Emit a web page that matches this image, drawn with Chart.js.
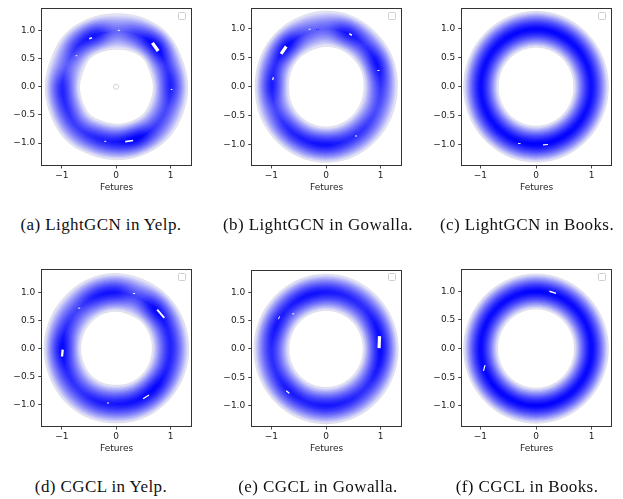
<!DOCTYPE html>
<html><head><meta charset="utf-8">
<script src="https://cdn.jsdelivr.net/npm/chart.js@4.4.1/dist/chart.umd.min.js"></script>
<style>
html,body{margin:0;padding:0;background:#fff;}
body{width:623px;height:499px;position:relative;overflow:hidden;}
canvas{position:absolute;}
.cap{position:absolute;font-family:"Liberation Serif","DejaVu Serif",serif;font-size:17px;letter-spacing:0.4px;color:#111;white-space:nowrap;transform:translate(-50%,-50%);}
.leg{position:absolute;width:6px;height:6px;border:1px solid #cfcfcf;border-radius:1.5px;background:#fff;}
</style></head><body>
<script>
// ---------------- data ----------------
const angles = [0, 22.5, 45, 67.5, 90, 112.5, 135, 157.5, 180, 202.5, 225, 247.5, 270, 292.5, 315, 337.5];
const xTicks = [-1, 0, 1];
const xTickLabels = ['\u22121', '0', '1'];
const yTicks = [-1, -0.5, 0, 0.5, 1];
const yTickLabels = ['\u22121.0', '\u22120.5', '0.0', '0.5', '1.0'];
const captionTags = ['(a)', '(b)', '(c)', '(d)', '(e)', '(f)'];
const captionTexts = ['LightGCN in Yelp.', 'LightGCN in Gowalla.', 'LightGCN in Books.', 'CGCL in Yelp.', 'CGCL in Gowalla.', 'CGCL in Books.'];
const axisTitle = 'Fetures';

// relative peak density of the ring at each angle
const peakA = [0.86, 0.78, 1.00, 0.76, 0.56, 0.90, 0.80, 0.60, 0.84, 0.80, 0.74, 0.84, 0.90, 1.00, 0.74, 0.70];
const peakB = [0.76, 0.93, 0.78, 0.90, 0.60, 0.66, 0.97, 0.80, 0.88, 0.70, 0.82, 0.88, 0.92, 0.82, 0.76, 0.68];
const peakC = [0.93, 0.94, 0.96, 0.97, 0.97, 0.97, 0.96, 0.95, 0.95, 0.95, 0.96, 0.97, 0.99, 0.98, 0.96, 0.94];
const peakD = [0.85, 0.86, 0.96, 0.70, 0.90, 0.88, 0.72, 0.80, 0.97, 0.84, 0.78, 0.86, 0.90, 0.93, 0.97, 0.86];
const peakE = [0.95, 0.92, 0.82, 0.85, 0.90, 0.92, 0.86, 0.90, 0.82, 0.80, 0.88, 0.86, 0.90, 0.86, 0.80, 0.88];
const peakF = [0.96, 0.95, 0.95, 0.97, 0.98, 0.96, 0.95, 0.95, 0.96, 0.97, 0.97, 0.97, 0.98, 0.97, 0.96, 0.96];
// radius of the ring core at each angle
const radiusA = [1.00, 0.99, 1.02, 1.00, 0.98, 0.99, 1.01, 0.98, 0.99, 0.99, 1.01, 0.98, 0.98, 0.99, 1.01, 1.00];
const radiusB = [1.00, 1.01, 1.00, 1.00, 1.00, 0.99, 1.00, 1.00, 0.99, 1.00, 1.00, 1.00, 1.00, 1.00, 1.00, 1.00];
const radiusC = [0.99, 0.99, 0.99, 0.99, 0.99, 0.99, 0.99, 0.99, 0.99, 0.99, 0.99, 0.99, 0.99, 0.99, 0.99, 0.99];
const radiusD = [1.00, 1.00, 1.00, 0.99, 1.00, 1.00, 0.99, 0.99, 0.99, 0.99, 1.00, 1.00, 0.99, 1.00, 1.00, 1.00];
const radiusE = [1.00, 1.00, 1.00, 1.00, 1.00, 1.00, 1.00, 1.00, 1.00, 1.00, 1.00, 1.00, 1.00, 1.00, 1.00, 1.00];
const radiusF = [0.995, 0.995, 0.995, 0.995, 0.995, 0.995, 0.995, 0.995, 0.995, 0.995, 0.995, 0.995, 0.995, 0.995, 0.995, 0.995];
// half width of the ring (core to faint edge), per panel
const ringHalfWidth = [0.315, 0.305, 0.31, 0.335, 0.32, 0.305];
// density maxima above the top level: [x, y, orientationDeg, halfLength, thickness]
const spotsA = [[0.72, 0.705, -55, 5, 3.4], [0.24, -0.965, 8, 4, 1.6], [-0.47, 0.86, 20, 1.5, 1.5], [0.05, 1.0, 0, 1, 1], [-0.73, 0.55, 0, 0.8, 1], [-0.2, -0.97, 0, 1, 1], [1.02, -0.05, 0, 0.8, 1]];
const spotsB = [[-0.775, 0.63, 55, 4.5, 3.2], [0.45, 0.9, -30, 1.5, 1.5], [-0.97, 0.14, 80, 1.5, 1.2], [0.96, 0.28, 0, 1, 1], [-0.3, 0.99, 0, 1, 1], [0.55, -0.85, 0, 1, 1]];
const spotsC = [[0.17, -1.0, 5, 2.5, 1.2], [-0.3, -0.98, 0, 1.2, 1]];
const spotsD = [[0.82, 0.62, -50, 5.5, 1.9], [-0.99, -0.08, 85, 3.5, 2.3], [0.55, -0.86, 32, 3.5, 1.2], [0.33, 0.98, 0, 1, 1], [-0.68, 0.72, 0, 1, 1], [-0.15, -0.97, 0, 1, 1]];
const spotsE = [[0.975, 0.12, 88, 6, 3.2], [-0.7, -0.76, -40, 2, 1.3], [-0.86, 0.55, 70, 1.5, 1], [-0.6, 0.62, 0, 1, 1]];
const spotsF = [[0.30, 0.98, -18, 3.5, 1.4], [-0.93, -0.34, 75, 3, 1.2]];
// small closed contour in the hole of panel (a)
const islandsA = [[0.0, 0.0]];
// axis limits per panel
const xMin = [-1.37, -1.36, -1.335, -1.37, -1.36, -1.335];
const xMax = [1.39, 1.385, 1.36, 1.39, 1.385, 1.36];
const yMin = [-1.39, -1.35, -1.35, -1.38, -1.36, -1.35];
const yMax = [1.39, 1.35, 1.35, 1.41, 1.39, 1.38];

// ---------------- build the contour tables from the readings ----------------
const panels = [
  {peaks: peakA, radii: radiusA, spots: spotsA, islands: islandsA},
  {peaks: peakB, radii: radiusB, spots: spotsB, islands: []},
  {peaks: peakC, radii: radiusC, spots: spotsC, islands: []},
  {peaks: peakD, radii: radiusD, spots: spotsD, islands: []},
  {peaks: peakE, radii: radiusE, spots: spotsE, islands: []},
  {peaks: peakF, radii: radiusF, spots: spotsF, islands: []}
];
const N_LEVELS = 28, PROFILE = 1.4, SUB = 5, TENSION = 0.0001;
const LIGHT = [236, 236, 246], BLUE = [0, 0, 255];
function mix(t) {
  const c = LIGHT.map((v, i) => Math.round(v + (BLUE[i] - v) * t));
  return 'rgb(' + c.join(',') + ')';
}
// smooth closed curve through the per-angle readings (Catmull-Rom), used only to trace contours
function smoothLoop(vals) {
  const n = vals.length, out = [];
  for (let j = 0; j < n; j++) {
    const p0 = vals[(j - 1 + n) % n], p1 = vals[j], p2 = vals[(j + 1) % n], p3 = vals[(j + 2) % n];
    for (let s = 0; s < SUB; s++) {
      const t = s / SUB, t2 = t * t, t3 = t2 * t;
      out.push(0.5 * ((2 * p1) + (-p0 + p2) * t + (2 * p0 - 5 * p1 + 4 * p2 - p3) * t2 + (-p0 + 3 * p1 - 3 * p2 + p3) * t3));
    }
  }
  return out;
}
const traceAngles = [];
angles.forEach((a, j) => { for (let s = 0; s < SUB; s++) traceAngles.push(a + (360 / angles.length) * s / SUB); });

function prepare(p) {
  p.pk = smoothLoop(p.peaks).map(v => Math.min(1, Math.max(0.05, v)));
  p.rr = smoothLoop(p.radii);
}
function offsets(p, L, hw) {
  return p.pk.map(pk => L <= pk ? hw * Math.pow(1 - L / pk, 1 / PROFILE) : 0);
}
function pt(p, off, i, s) {
  const r = p.rr[i] + s * off[i];
  const t = traceAngles[i] * Math.PI / 180;
  return {x: r * Math.cos(t), y: r * Math.sin(t)};
}
function bandPoints(p, L, hw) {
  const off = offsets(p, L, hw);
  const n = traceAngles.length, pts = [];
  for (let i = 0; i < n; i++) pts.push(pt(p, off, i, 1));
  pts.push(pt(p, off, 0, 1));
  pts.push(pt(p, off, 0, -1));
  for (let i = n - 1; i >= 1; i--) pts.push(pt(p, off, i, -1));
  pts.push(pt(p, off, 0, -1));
  return {pts, any: off.some(v => v > 0.004)};
}
function loopPoints(p, hw, s) {
  const off = offsets(p, 0, hw);
  const pts = traceAngles.map((a, i) => pt(p, off, i, s));
  pts.push(pt(p, off, 0, s));
  return pts;
}

const colLeft = [0, 210, 420], rowTop = [0, 261];
const capCx = [101, 318, 527], capCy = [225, 487];
const CW = 205, CH = 200, PAD_R = 13.3, PAD_T = 7, YW = 41.7, XH = 35;
const tickFont = {family: 'DejaVu Sans', size: 9};

panels.forEach((p, idx) => {
  prepare(p);
  const col = idx % 3, row = Math.floor(idx / 3);
  const cv = document.createElement('canvas');
  cv.width = CW; cv.height = CH;
  cv.style.left = colLeft[col] + 'px'; cv.style.top = rowTop[row] + 'px';
  cv.style.width = CW + 'px'; cv.style.height = CH + 'px';
  document.body.appendChild(cv);

  const hw = ringHalfWidth[idx];
  const datasets = [];
  datasets.push({
    data: p.spots.map(s => ({x: s[0], y: s[1]})),
    showLine: false, pointStyle: 'line',
    pointRotation: p.spots.map(s => -s[2]),
    pointRadius: p.spots.map(s => s[3]),
    pointBorderWidth: p.spots.map(s => s[4]),
    pointBorderColor: '#ffffff', pointBackgroundColor: '#ffffff'
  });
  if (p.islands.length) {
    datasets.push({
      data: p.islands.map(s => ({x: s[0], y: s[1]})),
      showLine: false, pointStyle: 'circle', pointRadius: 2.6, pointBorderWidth: 0.9,
      pointBorderColor: 'rgba(200,200,212,0.9)', pointBackgroundColor: 'rgba(0,0,0,0)'
    });
  }
  [1, -1].forEach(s => datasets.push({
    data: loopPoints(p, hw, s), pointRadius: 0, tension: TENSION, fill: false,
    borderColor: 'rgba(206,206,222,0.85)', borderWidth: 0.7
  }));
  for (let k = N_LEVELS - 1; k >= 0; k--) {
    const L = k / N_LEVELS;
    const b = bandPoints(p, L, hw);
    if (!b.any) continue;
    datasets.push({
      data: b.pts, pointRadius: 0, tension: TENSION, fill: 'shape',
      backgroundColor: mix(k / (N_LEVELS - 1)), borderColor: 'rgba(0,0,0,0)', borderWidth: 0
    });
  }

  new Chart(cv, {
    type: 'line',
    data: {datasets},
    options: {
      responsive: false, animation: false, events: [],
      layout: {padding: {left: 0, right: PAD_R, top: PAD_T, bottom: 0}},
      plugins: {legend: {display: false}, tooltip: {enabled: false}},
      scales: {
        x: {
          type: 'linear', position: 'bottom', min: xMin[idx], max: xMax[idx],
          afterBuildTicks: s => { s.ticks = xTicks.map(v => ({value: v})); },
          afterFit: s => { s.height = XH; },
          ticks: {font: tickFont, color: '#222', padding: 1.5, maxRotation: 0,
                  callback: v => xTickLabels[xTicks.indexOf(v)]},
          grid: {display: true, drawOnChartArea: false, drawTicks: true, tickLength: 3.5, color: '#333', lineWidth: 0.9},
          border: {display: true, color: '#333', width: 1},
          title: {display: true, text: axisTitle, font: tickFont, color: '#222', padding: {top: 0, bottom: 6.6}}
        },
        y: {
          type: 'linear', position: 'left', min: yMin[idx], max: yMax[idx],
          afterBuildTicks: s => { s.ticks = yTicks.map(v => ({value: v})); },
          afterFit: s => { s.width = YW; },
          ticks: {font: tickFont, color: '#222', padding: 3,
                  callback: v => yTickLabels[yTicks.indexOf(v)]},
          grid: {display: true, drawOnChartArea: false, drawTicks: true, tickLength: 3.5, color: '#333', lineWidth: 0.9},
          border: {display: true, color: '#333', width: 1}
        },
        x2: {
          type: 'linear', position: 'top', min: xMin[idx], max: xMax[idx],
          afterFit: s => { s.height = 0; },
          ticks: {display: false},
          grid: {display: true, drawOnChartArea: false, drawTicks: false},
          border: {display: true, color: '#333', width: 1}
        },
        y2: {
          type: 'linear', position: 'right', min: yMin[idx], max: yMax[idx],
          afterFit: s => { s.width = 0; },
          ticks: {display: false},
          grid: {display: true, drawOnChartArea: false, drawTicks: false},
          border: {display: true, color: '#333', width: 1}
        }
      }
    }
  });

  const leg = document.createElement('div');
  leg.className = 'leg';
  leg.style.left = (colLeft[col] + CW - PAD_R - 13.5) + 'px';
  leg.style.top = (rowTop[row] + PAD_T + 4.5) + 'px';
  document.body.appendChild(leg);

  const cap = document.createElement('div');
  cap.className = 'cap';
  cap.style.left = capCx[col] + 'px';
  cap.style.top = capCy[row] + 'px';
  cap.textContent = captionTags[idx] + ' ' + captionTexts[idx];
  document.body.appendChild(cap);
});
</script>
</body></html>
